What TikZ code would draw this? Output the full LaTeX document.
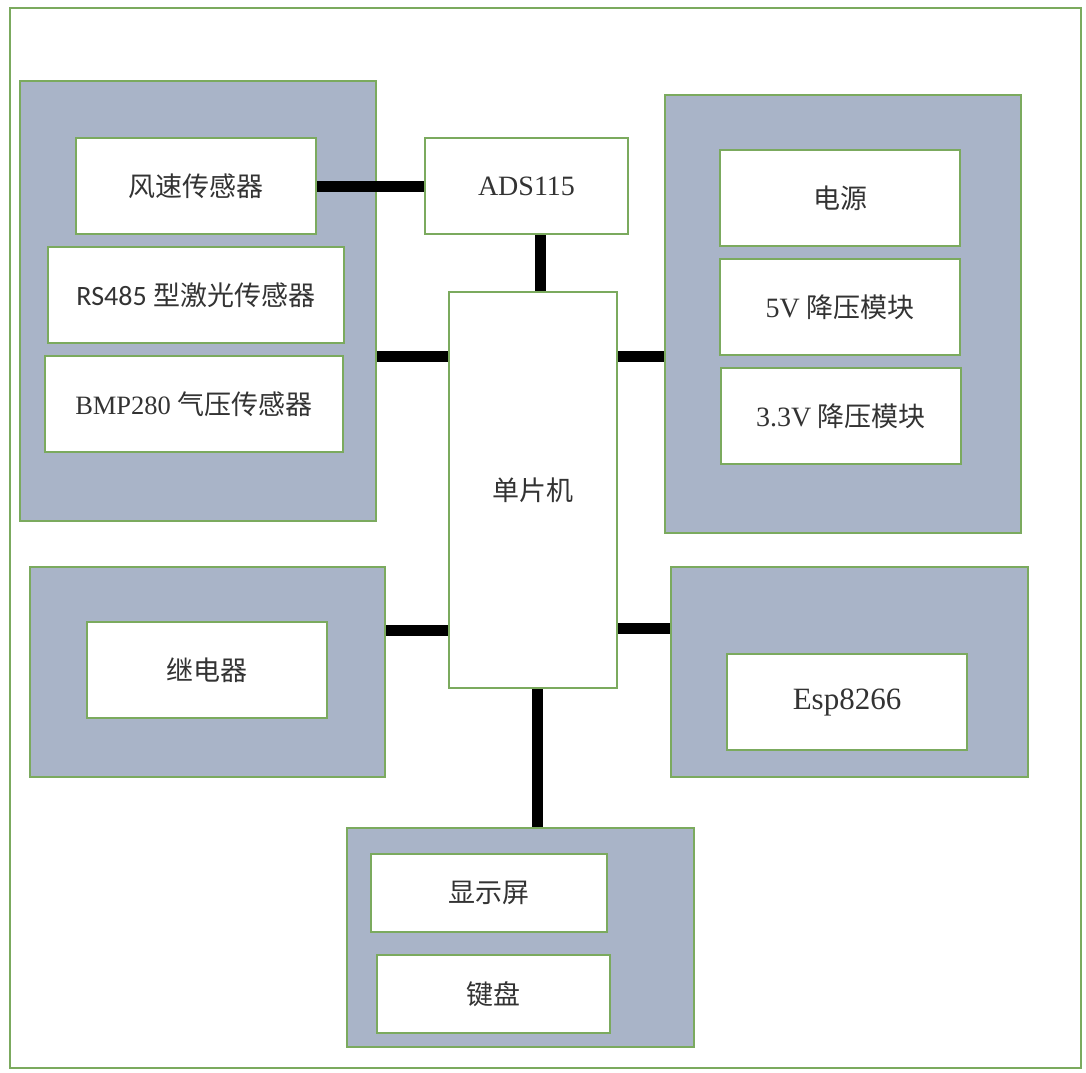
\documentclass[tikz,border=0pt]{standalone}
\usepackage{fontspec}
\setmainfont{Liberation Serif}
\newfontfamily\cjk{Noto Sans CJK SC}
\newfontfamily\calfont{Carlito}
\definecolor{grpfill}{HTML}{A9B4C8}
\definecolor{gborder}{HTML}{7BAA5E}
\definecolor{txt}{HTML}{333333}
\tikzset{
  grp/.style={draw=gborder, line width=2.5pt, fill=grpfill, inner sep=0pt},
  box/.style={draw=gborder, line width=2.5pt, fill=white, inner sep=0pt, text=txt,
              font=\fontsize{27}{32}\selectfont},
  latin/.style={font=\fontsize{28}{32}\selectfont},
  link/.style={line width=11pt, black},
}
\begin{document}
\begin{tikzpicture}[x=1pt,y=-1pt]
\useasboundingbox (0,0) rectangle (1086,1072);
\fill[white] (0,0) rectangle (1086,1072);
\node[draw=gborder, line width=2pt, inner sep=0pt, minimum width=1071pt, minimum height=1060pt] (frame) at (545.5,538) {};

% left sensor group
\node[grp, minimum width=356pt, minimum height=440pt] (lg) at (198,301) {};
\node[box, minimum width=240pt, minimum height=96pt] (fs) at (196,186) {\cjk 风速传感器};
\node[box, minimum width=296pt, minimum height=96pt] (rs) at (196,295) {{\calfont\fontsize{28}{32}\selectfont RS485} {\cjk 型激光传感器}};
\node[box, minimum width=298pt, minimum height=96pt] (bmp) at (194,404) {{\fontsize{26.5}{32}\selectfont BMP280} {\cjk 气压传感器}};

% ADS and MCU
\node[box, latin, minimum width=203pt, minimum height=96pt] (ads) at (526.5,186) {ADS115};
\node[box, minimum width=168pt, minimum height=396pt] (mcu) at (533,490) {\cjk 单片机};

% right power group
\node[grp, minimum width=356pt, minimum height=438pt] (rg) at (843,314) {};
\node[box, minimum width=240pt, minimum height=96pt] (pw) at (840,198) {\cjk 电源};
\node[box, minimum width=240pt, minimum height=96pt] (v5) at (840,307) {{\fontsize{28}{32}\selectfont 5V} {\cjk 降压模块}};
\node[box, minimum width=240pt, minimum height=96pt] (v33) at (841,416) {{\fontsize{28}{32}\selectfont 3.3V} {\cjk 降压模块}};

% relay group
\node[grp, minimum width=355pt, minimum height=210pt] (relg) at (207.5,672) {};
\node[box, minimum width=240pt, minimum height=96pt] (rel) at (207,670) {\cjk 继电器};

% esp group
\node[grp, minimum width=357pt, minimum height=210pt] (espg) at (849.5,672) {};
\node[box, minimum width=240pt, minimum height=96pt, font=\fontsize{31}{36}\selectfont] (esp) at (847,702) {Esp8266};

% bottom group
\node[grp, minimum width=347pt, minimum height=219pt] (bg) at (520.5,937.5) {};
\node[box, minimum width=236pt, minimum height=78pt] (disp) at (489,893) {\cjk 显示屏};
\node[box, minimum width=233pt, minimum height=78pt] (kb) at (493.5,994) {\cjk 键盘};

% connectors
\coordinate (ya) at (0,356);
\coordinate (yb) at (0,630);
\coordinate (yc) at (0,628);
\coordinate (xa) at (540,0);
\coordinate (xb) at (537,0);
\draw[link] (fs.east) -- (ads.west);
\draw[link] (ads.south -| xa) -- (mcu.north -| xa);
\draw[link] (lg.east |- ya) -- (mcu.west |- ya);
\draw[link] (mcu.east |- ya) -- (rg.west |- ya);
\draw[link] (relg.east |- yb) -- (mcu.west |- yb);
\draw[link] (mcu.east |- yc) -- (espg.west |- yc);
\draw[link] (mcu.south -| xb) -- (bg.north -| xb);
\end{tikzpicture}
\end{document}
